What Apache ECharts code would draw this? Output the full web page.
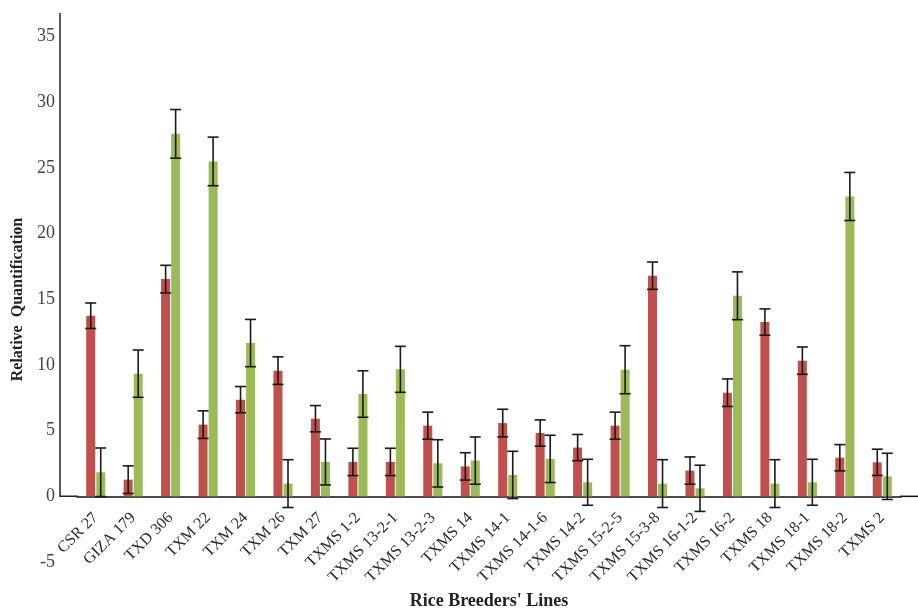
<!DOCTYPE html>
<html>
<head>
<meta charset="utf-8">
<script src="https://cdn.jsdelivr.net/npm/echarts@6/dist/echarts.min.js"></script>
<style>
html,body{margin:0;padding:0;background:#fff;}
#chartContainer{width:918px;height:612px;}
</style>
</head>
<body>
<div id="chartContainer"></div>
<script>
// 品系
var categories = ['CSR 27','GIZA 179','TXD 306','TXM 22','TXM 24','TXM 26','TXM 27','TXMS 1-2','TXMS 13-2-1','TXMS 13-2-3','TXMS 14','TXMS 14-1','TXMS 14-1-6','TXMS 14-2','TXMS 15-2-5','TXMS 15-3-8','TXMS 16-1-2','TXMS 16-2','TXMS 18','TXMS 18-1','TXMS 18-2','TXMS 2'];
// red series
var redValues = [13.75,1.27,16.54,5.46,7.36,9.57,5.91,2.62,2.62,5.38,2.28,5.58,4.82,3.71,5.38,16.8,1.96,7.89,13.27,10.33,2.94,2.59];
var redErrors = [0.97,1.05,1.05,1.05,1.0,1.05,1.0,1.04,1.04,1.03,1.04,1.05,1.0,1.0,1.03,1.04,1.04,1.05,1.0,1.04,1.0,1.0];
// green series
var greenValues = [1.83,9.34,27.6,25.5,11.67,0.97,2.62,7.79,9.67,2.51,2.72,1.63,2.85,1.07,9.64,0.97,0.61,15.27,0.97,1.07,22.83,1.52];
var greenErrors = [1.85,1.8,1.85,1.85,1.8,1.82,1.75,1.77,1.75,1.8,1.8,1.8,1.8,1.75,1.83,1.82,1.76,1.82,1.82,1.75,1.83,1.76];
var yTicks = [-5,0,5,10,15,20,25,30,35];

var serifFont = '"Liberation Serif", "DejaVu Serif", serif';

function errorData(values, errors){
	var arr = new Array();
	for(var i = 0;i<values.length;i++){
		arr.push([i, values[i]-errors[i], values[i]+errors[i]]);
	}
	return arr;
}

// 误差线
function errorSeries(values, errors, offset){
	return {
		type : 'custom',
		z : 5,
		data : errorData(values, errors),
		renderItem : function(params, api){
			var lo = api.coord([api.value(0), api.value(1)]);
			var hi = api.coord([api.value(0), api.value(2)]);
			var x = lo[0] + offset;
			var half = 5.5;
			var style = {stroke:'#1a1a1a', lineWidth:1.6};
			return {
				type : 'group',
				children : [
					{type:'line', shape:{x1:x, y1:hi[1], x2:x, y2:lo[1]}, style:style},
					{type:'line', shape:{x1:x-half, y1:hi[1], x2:x+half, y2:hi[1]}, style:style},
					{type:'line', shape:{x1:x-half, y1:lo[1], x2:x+half, y2:lo[1]}, style:style}
				]
			};
		}
	};
}

var myChart = echarts.init(document.getElementById('chartContainer'));
var option = {
	backgroundColor : '#fff',
	animation : false,
	grid : {left:77, right:17, top:13, bottom:50, outerBoundsMode:'none', containLabel:false},
	xAxis : {
		type : 'category',
		data : categories,
		axisLine : {onZero:false, lineStyle:{color:'#111', width:1.5}},
		axisTick : {show:false},
		axisLabel : {rotate:45, interval:0, margin:19, color:'#2a2a2a', fontFamily:serifFont, fontSize:16},
		name : "Rice Breeders' Lines",
		nameLocation : 'middle',
		nameGap : 96,
		nameTextStyle : {color:'#222', fontFamily:serifFont, fontSize:18, fontWeight:'bold'}
	},
	yAxis : {
		type : 'value',
		min : yTicks[0],
		max : 36.8,
		interval : 5,
		offset : 17,
		axisLine : {show:false},
		axisTick : {show:false},
		splitLine : {show:false},
		axisLabel : {showMaxLabel:false, margin:5, color:'#444', fontFamily:serifFont, fontSize:18},
		name : 'Relative  Quantification',
		nameLocation : 'middle',
		nameGap : 34,
		nameTextStyle : {color:'#222', fontFamily:serifFont, fontSize:16, fontWeight:'bold', padding:[0,24,0,0]}
	},
	series : [
		{type:'bar', data:redValues, barWidth:9, barGap:'12%', itemStyle:{color:'#c0504d'}},
		{type:'bar', data:greenValues, barWidth:9, barGap:'12%', itemStyle:{color:'#9bbb59'}},
		errorSeries(redValues, redErrors, -5),
		errorSeries(greenValues, greenErrors, 5)
	]
};
myChart.setOption(option);

// x轴移到0处; y轴线只画到0, x轴线向两边延长
var zeroY = myChart.convertToPixel({yAxisIndex:0}, 0);
var bottomY = myChart.convertToPixel({yAxisIndex:0}, yTicks[0]);
myChart.setOption({
	xAxis : {offset : zeroY - bottomY},
	graphic : [
		{type:'polyline', z:10, shape:{points:[[60,13],[60,zeroY],[78,zeroY]]}, style:{stroke:'#222', lineWidth:1.5, fill:null}},
		{type:'line', z:10, shape:{x1:900, y1:zeroY, x2:918, y2:zeroY}, style:{stroke:'#111', lineWidth:1.5}}
	]
});
</script>
</body>
</html>
